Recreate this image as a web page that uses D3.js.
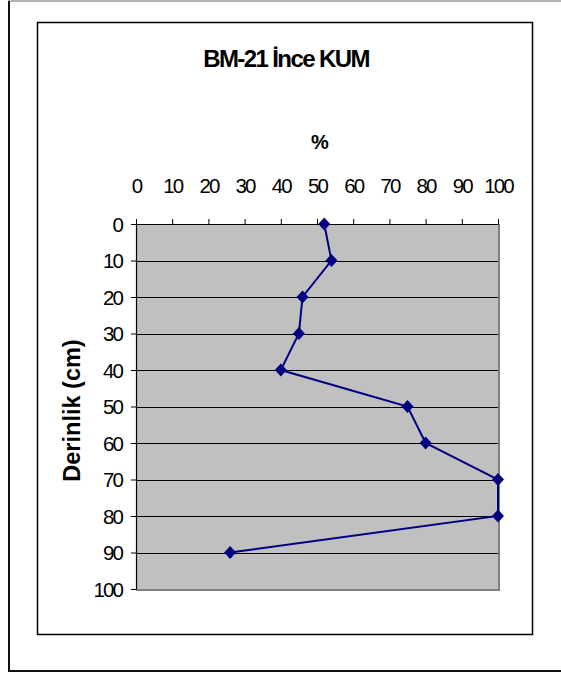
<!DOCTYPE html>
<html>
<head>
<meta charset="utf-8">
<script src="https://cdn.jsdelivr.net/npm/d3@7"></script>
<style>
    body { margin: 0; background: #fff; }
    svg { display: block; font-family: "Liberation Sans", Arial, sans-serif; }
</style>
</head>
<body>
<div id="chart"></div>
<script>
const chartTitle = 'BM-21 İnce KUM';
const xTitle = '%';
const yTitle = 'Derinlik (cm)';

const depths = [0, 10, 20, 30, 40, 50, 60, 70, 80, 90];
const percents = [52, 54, 46, 45, 40, 75, 80, 100, 100, 26];

const percentTicks = [0, 10, 20, 30, 40, 50, 60, 70, 80, 90, 100];
const depthTicks = [0, 10, 20, 30, 40, 50, 60, 70, 80, 90, 100];

const width = 561;
const height = 675;
const plot = { left: 136, right: 498, top: 224, bottom: 589 };

const svg = d3.select('#chart')
    .append('svg')
    .attr('width', width)
    .attr('height', height);

/* outer frame + chart area frame */
svg.append('line')
    .attr('x1', 8).attr('x2', width).attr('y1', 1).attr('y2', 1)
    .attr('stroke', '#9a9a9a').attr('stroke-width', 1.5);
svg.append('path')
    .attr('d', `M${width},671 H9 V1`)
    .attr('fill', 'none')
    .attr('stroke', '#111')
    .attr('stroke-width', 2);
svg.append('rect')
    .attr('x', 37.5).attr('y', 22.5)
    .attr('width', 495).attr('height', 612)
    .attr('fill', 'none')
    .attr('stroke', '#000')
    .attr('stroke-width', 1.5);

const x = d3.scaleLinear()
    .domain([0, 100])
    .range([plot.left, plot.right]);
const y = d3.scaleLinear()
    .domain([0, 100])
    .range([plot.top, plot.bottom]);

/* plot background */
svg.append('rect')
    .attr('x', plot.left)
    .attr('y', plot.top)
    .attr('width', plot.right - plot.left)
    .attr('height', plot.bottom - plot.top)
    .attr('fill', '#c0c0c0');

/* horizontal gridlines */
svg.append('g')
    .attr('class', 'grid')
    .selectAll('line')
    .data(depthTicks.filter((d) => d > 0 && d < 100))
    .join('line')
    .attr('x1', plot.left)
    .attr('x2', plot.right)
    .attr('y1', (d) => Math.round(y(d)) + 0.5)
    .attr('y2', (d) => Math.round(y(d)) + 0.5)
    .attr('stroke', '#000')
    .attr('stroke-width', 1);

/* right + bottom plot border */
svg.append('path')
    .attr('d', `M${plot.right + 1},${plot.top} V${plot.bottom + 1} H${plot.left}`)
    .attr('fill', 'none')
    .attr('stroke', '#808080')
    .attr('stroke-width', 2);

/* top (x) axis */
const xAxis = svg.append('g')
    .attr('transform', `translate(0,${plot.top})`)
    .call(d3.axisTop(x).tickValues(percentTicks).tickSize(5).tickPadding(26).tickSizeOuter(0));

/* left (y) axis */
const yAxis = svg.append('g')
    .attr('transform', `translate(${plot.left},0)`)
    .call(d3.axisLeft(y).tickValues(depthTicks).tickSize(5).tickPadding(9).tickSizeOuter(0));

[xAxis, yAxis].forEach((axis) => {
    axis.select('.domain').attr('stroke', '#000').attr('stroke-width', 1.2);
    axis.selectAll('.tick line').attr('stroke', '#000');
    axis.selectAll('.tick text')
        .attr('fill', '#000')
        .style('font-size', '20.5px')
        .style('letter-spacing', '-1.9px')
        .style('font-family', '"Liberation Sans", Arial, sans-serif');
});
yAxis.selectAll('.tick text').attr('dy', '0.36em');

/* series line */
const points = depths.map((d, i) => ({ depth: d, value: percents[i] }));

svg.append('path')
    .datum(points)
    .attr('fill', 'none')
    .attr('stroke', '#000080')
    .attr('stroke-width', 2)
    .attr('d', d3.line().x((d) => x(d.value)).y((d) => y(d.depth)));

svg.append('g')
    .selectAll('path')
    .data(points)
    .join('path')
    .attr('transform', (d) => `translate(${x(d.value)},${y(d.depth)})`)
    .attr('d', 'M0,-6.5 L6,0 L0,6.5 L-6,0 Z')
    .attr('fill', '#000080');

/* titles */
svg.append('text')
    .attr('x', 286)
    .attr('y', 67)
    .attr('text-anchor', 'middle')
    .style('font-size', '24px')
    .style('font-weight', 'bold')
    .style('letter-spacing', '-1.6px')
    .text(chartTitle);

svg.append('text')
    .attr('x', (plot.left + plot.right) / 2 + 3)
    .attr('y', 149)
    .attr('text-anchor', 'middle')
    .style('font-size', '20px')
    .style('font-weight', 'bold')
    .text(xTitle);

svg.append('text')
    .attr('transform', `translate(80,${(plot.top + plot.bottom) / 2 + 4}) rotate(-90)`)
    .attr('text-anchor', 'middle')
    .style('font-size', '23.5px')
    .style('font-weight', 'bold')
    .text(yTitle);
</script>
</body>
</html>
